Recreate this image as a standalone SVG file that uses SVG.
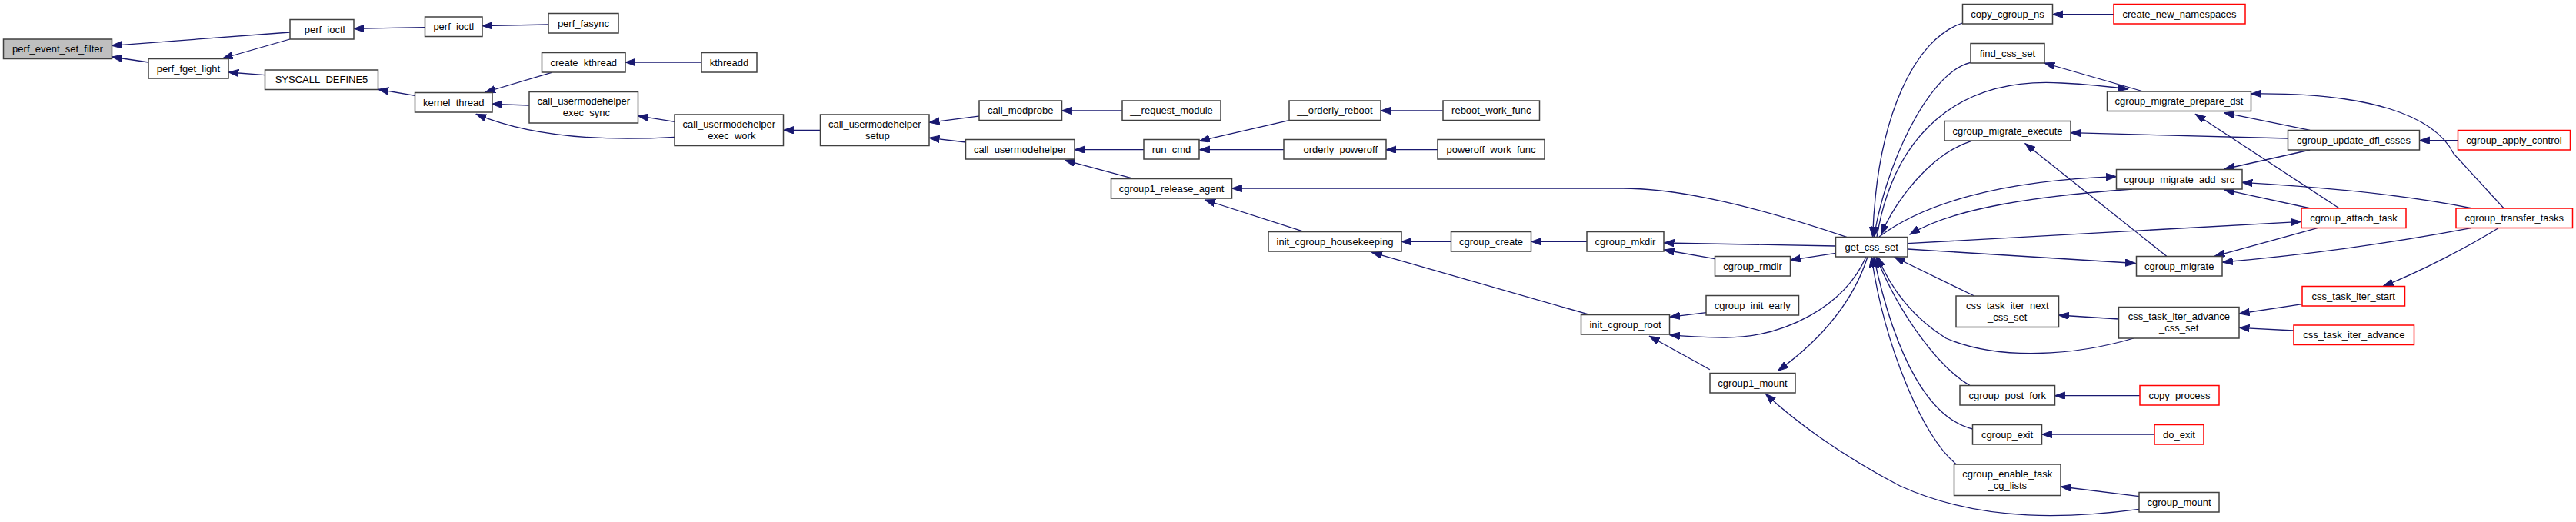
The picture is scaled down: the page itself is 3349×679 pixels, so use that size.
<svg xmlns="http://www.w3.org/2000/svg" width="3349" height="679" viewBox="0 0 3349 679">
<style>
.n rect{fill:#ffffff;stroke:#404040;stroke-width:1.5}
.n.red rect{stroke:#ff0000}
.n.root rect{fill:#bfbfbf}
.n text{font-family:"Liberation Sans",Arial,sans-serif;font-size:13px;text-anchor:middle;fill:#000000}
#edges path{fill:none;stroke:#191970;stroke-width:1.3;marker-end:url(#ah)}
</style>
<defs>
<marker id="ah" markerUnits="userSpaceOnUse" markerWidth="14" markerHeight="10" refX="13.3" refY="4.7" orient="auto">
<path d="M0,0 L13.3,4.7 L0,9.4 z" fill="#191970" stroke="#191970" stroke-width="1"/>
</marker>
</defs>
<rect x="0" y="0" width="3349" height="679" fill="#ffffff"/>
<g id="edges">
<path d="M377,42 L145.4,59.3"/>
<path d="M192.9,81 L145.4,74"/>
<path d="M376.8,51 L289.3,76"/>
<path d="M344.6,97.7 L297.1,94"/>
<path d="M552.5,35.7 L460,37.3"/>
<path d="M539.3,124.3 L491.8,116.3"/>
<path d="M712.9,32 L627.1,33.7"/>
<path d="M717.1,94.3 L630.7,120"/>
<path d="M911.8,81 L812.9,81"/>
<path d="M687.9,137 L639.3,135.3"/>
<path d="M877,178.3 C780,184 690,178 619,148.3"/>
<path d="M877.1,158.3 L829.3,150.7"/>
<path d="M1066.4,169.3 L1018.6,169.3"/>
<path d="M1272.9,151 L1208.2,159.3"/>
<path d="M1255.7,185 L1208.2,179.3"/>
<path d="M1458.9,144 L1380.4,144"/>
<path d="M1487.1,194.7 L1397.1,194.7"/>
<path d="M1473.6,232.3 L1384.3,208.3"/>
<path d="M1675.7,156.7 L1559.3,183.3"/>
<path d="M1668.9,194.7 L1559.3,194.7"/>
<path d="M1875.7,144 L1795,144"/>
<path d="M1868.9,194.7 L1801.8,194.7"/>
<path d="M2400.7,308.3 C2320,281 2200,245 2110,245 L1601.4,245"/>
<path d="M1696,301.7 L1566.4,260"/>
<path d="M1886.4,314.3 L1821.8,314.3"/>
<path d="M2067.5,409.7 L1783.6,328.3"/>
<path d="M2062.9,314.3 L1990.7,314.3"/>
<path d="M2386.4,320 L2163.2,316"/>
<path d="M2229.3,336.7 L2163.2,325"/>
<path d="M2386.4,329.3 L2327.5,338.3"/>
<path d="M2218.2,406.7 L2170.7,412.3"/>
<path d="M2222.9,480.7 L2144.3,437.3"/>
<path d="M2426,334 C2398,398 2320,440 2240,439 Q2200,438.5 2170.7,435.7"/>
<path d="M2428,334 C2410,390 2370,440 2311.4,482.3"/>
<path d="M2781,662.3 C2700,673 2580,682 2470,632 C2390,590 2330,545 2295.4,512.3"/>
<path d="M2543.6,604 C2500,570 2450,450 2433,334"/>
<path d="M2564.6,558 C2510,545 2465,470 2436,334"/>
<path d="M2561.4,501.7 C2520,478 2470,410 2439,334"/>
<path d="M2566.8,385 L2463,334.5"/>
<path d="M2773.9,440 C2700,462 2600,470 2530,440 C2490,415 2460,380 2441,334"/>
<path d="M2754.6,415 L2676.4,410"/>
<path d="M2992.9,395.7 L2911.2,408"/>
<path d="M2981.8,430 L2911.2,426.3"/>
<path d="M3248,296.7 C3210,320 3150,352 3098.4,372.3"/>
<path d="M2781.8,514.7 L2671.4,514.7"/>
<path d="M2801,565 L2654.6,565"/>
<path d="M2781,645.7 L2679.3,633"/>
<path d="M2551.4,30 C2490,50 2440,150 2434.6,308.3"/>
<path d="M2747.9,18.7 L2668.6,18.7"/>
<path d="M2561.8,81.3 C2505,95 2450,220 2436.4,308.3"/>
<path d="M2786.4,119 L2657.9,82"/>
<path d="M2440,308.3 C2462,175 2545,100 2680,108 C2720,110 2745,113 2766.8,116"/>
<path d="M2563.2,183.3 C2510,200 2465,260 2445.4,305"/>
<path d="M2974.3,180 L2692.1,172.7"/>
<path d="M2816.7,333.3 L2632.9,186.7"/>
<path d="M3003.2,169.3 L2891.6,146.7"/>
<path d="M3041.3,271 L2854.2,148.3"/>
<path d="M3255.2,271 L3190,200 C3165,150 3080,120 2926.5,122"/>
<path d="M3195.7,182.7 L3145.4,182.7"/>
<path d="M3003.2,195 L2891.6,220"/>
<path d="M3214.2,271 C3150,258 3050,245 2915.1,237.3"/>
<path d="M3003.9,271 L2891.6,246.7"/>
<path d="M2480,316.7 L2991.5,288.3"/>
<path d="M3012.8,296.7 L2879.1,333.3"/>
<path d="M3212.5,296.7 C3100,318 2980,333 2889.5,341"/>
<path d="M2480,324 L2776.5,342.5"/>
<path d="M2772,246 C2650,255 2540,270 2483,305"/>
<path d="M2443,308 C2500,265 2600,235 2751.4,229.7"/>
</g>
<g id="n_perf_event_set_filter" class="n root"><rect x="4.5" y="51" width="141" height="25.5"/><text x="75" y="68">perf_event_set_filter</text></g>
<g id="n__perf_ioctl" class="n"><rect x="377" y="25.5" width="83" height="25.5"/><text x="418.5" y="42.5">_perf_ioctl</text></g>
<g id="n_perf_fget_light" class="n"><rect x="193" y="76.5" width="104" height="25.5"/><text x="245" y="93.5">perf_fget_light</text></g>
<g id="n_SYSCALL_DEFINE5" class="n"><rect x="344.5" y="91" width="147" height="25.5"/><text x="418" y="108">SYSCALL_DEFINE5</text></g>
<g id="n_perf_ioctl" class="n"><rect x="552.5" y="22" width="74.5" height="25.5"/><text x="589.75" y="39">perf_ioctl</text></g>
<g id="n_perf_fasync" class="n"><rect x="713" y="17.5" width="91" height="25.5"/><text x="758.5" y="34.5">perf_fasync</text></g>
<g id="n_kernel_thread" class="n"><rect x="539.5" y="120.5" width="100.5" height="25.5"/><text x="589.75" y="137.5">kernel_thread</text></g>
<g id="n_create_kthread" class="n"><rect x="704.5" y="68.5" width="108.5" height="25.5"/><text x="758.75" y="85.5">create_kthread</text></g>
<g id="n_kthreadd" class="n"><rect x="912" y="68.5" width="72" height="25.5"/><text x="948" y="85.5">kthreadd</text></g>
<g id="n_call_usermodehelper_exec_sync" class="n"><rect x="688" y="119.5" width="141.5" height="40.5"/><text x="758.75" y="136.25">call_usermodehelper</text><text x="758.75" y="151.25">_exec_sync</text></g>
<g id="n_call_usermodehelper_exec_work" class="n"><rect x="877" y="149" width="141.5" height="40.5"/><text x="947.75" y="165.75">call_usermodehelper</text><text x="947.75" y="180.75">_exec_work</text></g>
<g id="n_call_usermodehelper_setup" class="n"><rect x="1066.5" y="149" width="141.5" height="40.5"/><text x="1137.25" y="165.75">call_usermodehelper</text><text x="1137.25" y="180.75">_setup</text></g>
<g id="n_call_modprobe" class="n"><rect x="1273" y="131" width="107.5" height="25.5"/><text x="1326.75" y="148">call_modprobe</text></g>
<g id="n___request_module" class="n"><rect x="1459" y="131" width="128" height="25.5"/><text x="1523" y="148">__request_module</text></g>
<g id="n_call_usermodehelper" class="n"><rect x="1255.5" y="181.5" width="141.5" height="25.5"/><text x="1326.25" y="198.5">call_usermodehelper</text></g>
<g id="n_run_cmd" class="n"><rect x="1487" y="181.5" width="72" height="25.5"/><text x="1523" y="198.5">run_cmd</text></g>
<g id="n_cgroup1_release_agent" class="n"><rect x="1444.5" y="232.5" width="157" height="25.5"/><text x="1523" y="249.5">cgroup1_release_agent</text></g>
<g id="n_init_cgroup_housekeeping" class="n"><rect x="1649" y="301.5" width="173" height="25.5"/><text x="1735.5" y="318.5">init_cgroup_housekeeping</text></g>
<g id="n___orderly_reboot" class="n"><rect x="1676" y="131" width="119" height="25.5"/><text x="1735.5" y="148">__orderly_reboot</text></g>
<g id="n___orderly_poweroff" class="n"><rect x="1669" y="181.5" width="133" height="25.5"/><text x="1735.5" y="198.5">__orderly_poweroff</text></g>
<g id="n_reboot_work_func" class="n"><rect x="1876" y="131" width="125.5" height="25.5"/><text x="1938.75" y="148">reboot_work_func</text></g>
<g id="n_poweroff_work_func" class="n"><rect x="1869" y="181.5" width="139" height="25.5"/><text x="1938.5" y="198.5">poweroff_work_func</text></g>
<g id="n_cgroup_create" class="n"><rect x="1886.5" y="301.5" width="104" height="25.5"/><text x="1938.5" y="318.5">cgroup_create</text></g>
<g id="n_cgroup_mkdir" class="n"><rect x="2063" y="301.5" width="100" height="25.5"/><text x="2113" y="318.5">cgroup_mkdir</text></g>
<g id="n_cgroup_rmdir" class="n"><rect x="2229.5" y="333.5" width="98" height="25.5"/><text x="2278.5" y="350.5">cgroup_rmdir</text></g>
<g id="n_init_cgroup_root" class="n"><rect x="2055.5" y="409.5" width="115" height="25.5"/><text x="2113" y="426.5">init_cgroup_root</text></g>
<g id="n_cgroup_init_early" class="n"><rect x="2218" y="384.5" width="120.5" height="25.5"/><text x="2278.25" y="401.5">cgroup_init_early</text></g>
<g id="n_cgroup1_mount" class="n"><rect x="2223" y="485.5" width="111" height="25.5"/><text x="2278.5" y="502.5">cgroup1_mount</text></g>
<g id="n_get_css_set" class="n"><rect x="2386.5" y="308.5" width="93.5" height="25.5"/><text x="2433.25" y="325.5">get_css_set</text></g>
<g id="n_copy_cgroup_ns" class="n"><rect x="2551.5" y="5.5" width="117" height="25.5"/><text x="2610" y="22.5">copy_cgroup_ns</text></g>
<g id="n_create_new_namespaces" class="n red"><rect x="2748" y="5.5" width="171" height="25.5"/><text x="2833.5" y="22.5">create_new_namespaces</text></g>
<g id="n_find_css_set" class="n"><rect x="2562" y="56.5" width="96" height="25.5"/><text x="2610" y="73.5">find_css_set</text></g>
<g id="n_cgroup_migrate_prepare_dst" class="n"><rect x="2739.5" y="119" width="187" height="25.5"/><text x="2833" y="136">cgroup_migrate_prepare_dst</text></g>
<g id="n_cgroup_migrate_execute" class="n"><rect x="2528" y="157.5" width="164" height="25.5"/><text x="2610" y="174.5">cgroup_migrate_execute</text></g>
<g id="n_cgroup_migrate_add_src" class="n"><rect x="2751.5" y="220.5" width="163.5" height="25.5"/><text x="2833.25" y="237.5">cgroup_migrate_add_src</text></g>
<g id="n_cgroup_migrate" class="n"><rect x="2777.5" y="333.5" width="111.5" height="25.5"/><text x="2833.25" y="350.5">cgroup_migrate</text></g>
<g id="n_cgroup_update_dfl_csses" class="n"><rect x="2974.5" y="169.5" width="171" height="25.5"/><text x="3060" y="186.5">cgroup_update_dfl_csses</text></g>
<g id="n_cgroup_apply_control" class="n red"><rect x="3195.5" y="169.5" width="146" height="25.5"/><text x="3268.5" y="186.5">cgroup_apply_control</text></g>
<g id="n_cgroup_attach_task" class="n red"><rect x="2992" y="271" width="136" height="25.5"/><text x="3060" y="288">cgroup_attach_task</text></g>
<g id="n_cgroup_transfer_tasks" class="n red"><rect x="3193" y="271" width="151.5" height="25.5"/><text x="3268.75" y="288">cgroup_transfer_tasks</text></g>
<g id="n_css_task_iter_next_css_set" class="n"><rect x="2543" y="385" width="133.5" height="40.5"/><text x="2609.75" y="401.75">css_task_iter_next</text><text x="2609.75" y="416.75">_css_set</text></g>
<g id="n_css_task_iter_advance_css_set" class="n"><rect x="2754.5" y="399.5" width="156.5" height="40.5"/><text x="2832.75" y="416.25">css_task_iter_advance</text><text x="2832.75" y="431.25">_css_set</text></g>
<g id="n_css_task_iter_start" class="n red"><rect x="2993" y="372.5" width="133.5" height="25.5"/><text x="3059.75" y="389.5">css_task_iter_start</text></g>
<g id="n_css_task_iter_advance" class="n red"><rect x="2982" y="423" width="156.5" height="25.5"/><text x="3060.25" y="440">css_task_iter_advance</text></g>
<g id="n_cgroup_post_fork" class="n"><rect x="2548" y="501.5" width="123.5" height="25.5"/><text x="2609.75" y="518.5">cgroup_post_fork</text></g>
<g id="n_copy_process" class="n red"><rect x="2782" y="501.5" width="103" height="25.5"/><text x="2833.5" y="518.5">copy_process</text></g>
<g id="n_cgroup_exit" class="n"><rect x="2564.5" y="552.5" width="90" height="25.5"/><text x="2609.5" y="569.5">cgroup_exit</text></g>
<g id="n_do_exit" class="n red"><rect x="2801" y="552.5" width="64" height="25.5"/><text x="2833" y="569.5">do_exit</text></g>
<g id="n_cgroup_enable_task_cg_lists" class="n"><rect x="2540.5" y="604" width="138.5" height="40.5"/><text x="2609.75" y="620.75">cgroup_enable_task</text><text x="2609.75" y="635.75">_cg_lists</text></g>
<g id="n_cgroup_mount" class="n"><rect x="2781" y="640.5" width="104" height="25.5"/><text x="2833" y="657.5">cgroup_mount</text></g>
</svg>
